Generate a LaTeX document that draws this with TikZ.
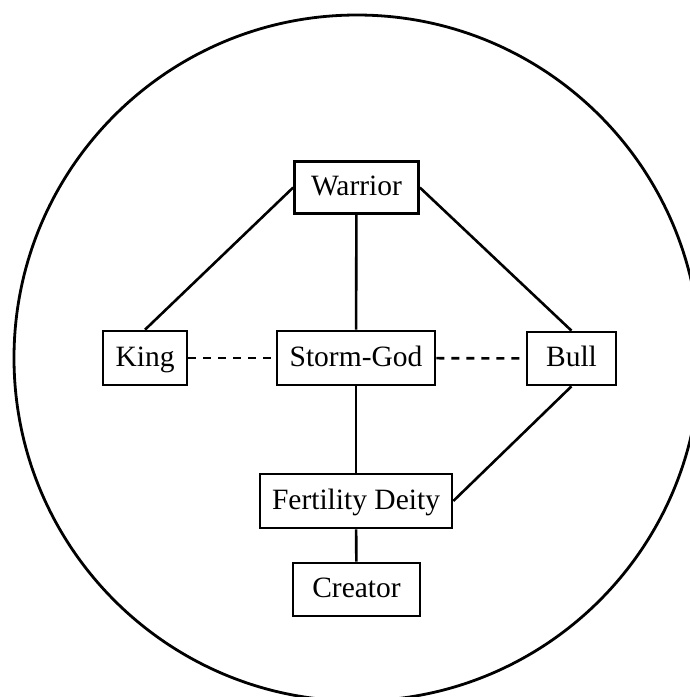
\documentclass[tikz,border=0pt]{standalone}
\usepackage{fontspec}
\setmainfont{Liberation Serif}
\begin{document}
\begin{tikzpicture}[x=1pt,y=-1pt,
  box/.style={draw,line width=2.6pt,inner sep=0pt,text height=22pt,text depth=6pt,font=\fontsize{29.5}{35}\selectfont},
  link/.style={line width=2.6pt},
  weak/.style={line width=2.6pt,dash pattern=on 8pt off 7pt}]
\useasboundingbox (0,0) rectangle (690,697);
\draw[line width=2.8pt] (357,358) circle[radius=343];
\node[box,minimum width=124pt,minimum height=52pt] (warrior) at (356.5,187.5) {Warrior};
\node[box,minimum width=84pt,minimum height=54pt] (king) at (145,358) {King};
\node[box,minimum width=158pt,minimum height=54pt] (storm) at (356,358) {Storm-God};
\node[box,minimum width=89pt,minimum height=53pt] (bull) at (571.5,358.5) {Bull};
\node[box,minimum width=192pt,minimum height=54pt] (fert) at (356,501) {Fertility Deity};
\node[box,minimum width=127pt,minimum height=53pt] (creator) at (356.5,589.5) {Creator};
\draw[link] (warrior.west) -- (king.north);
\draw[link] (warrior.east) -- (bull.north);
\draw[link] (warrior) -- (storm);
\draw[link] (storm) -- (fert);
\draw[link] (bull.south) -- (fert.east);
\draw[link] (fert) -- (creator);
\draw[weak] (king) -- (storm);
\draw[weak] (storm) -- (bull);
\end{tikzpicture}
\end{document}
